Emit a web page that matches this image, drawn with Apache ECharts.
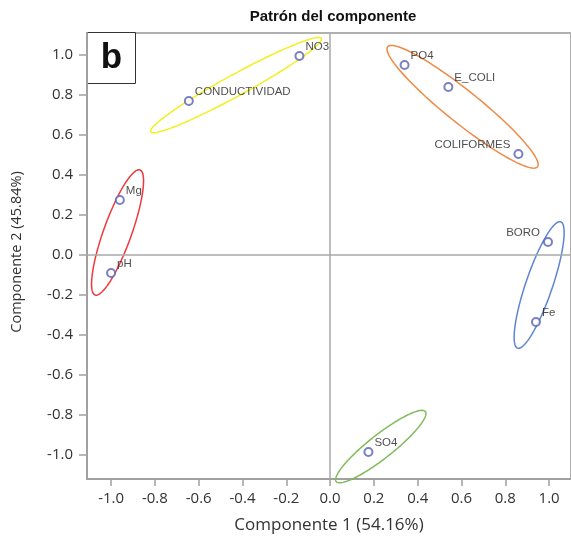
<!DOCTYPE html>
<html>
<head>
<meta charset="utf-8">
<script src="https://cdn.jsdelivr.net/npm/echarts@6/dist/echarts.min.js"></script>
<style>
html,body{margin:0;padding:0;background:#fff;}
#chart{width:571px;height:539px;}
</style>
</head>
<body>
<div id="chart"></div>
<script>
// ---- data ----
const names = ['NO3','CONDUCTIVIDAD','PO4','E_COLI','COLIFORMES','Mg','pH','BORO','Fe','SO4'];
const comp1 = [-0.14, -0.645, 0.34, 0.54, 0.86, -0.96, -1.0, 0.995, 0.94, 0.175];
const comp2 = [0.995, 0.77, 0.95, 0.84, 0.505, 0.275, -0.09, 0.065, -0.335, -0.985];
const tickValues = [-1.0, -0.8, -0.6, -0.4, -0.2, 0.0, 0.2, 0.4, 0.6, 0.8, 1.0];
// ellipses: major-axis tips (x1,y1,x2,y2) in component units, minor/major ratio
const ellipseX1 = [-0.04, 0.263, -0.868, 1.053, 0.435];
const ellipseY1 = [1.083, 1.041, 0.425, 0.166, -0.783];
const ellipseX2 = [-0.819, 0.947, -1.073, 0.856, 0.028];
const ellipseY2 = [0.616, 0.441, -0.20, -0.466, -1.133];
const ellipseRatio = [0.11, 0.17, 0.21, 0.20, 0.21];

// ---- styles ----
const ellipseColors = ['#f2f01e', '#ee8a45', '#f0383c', '#5d86d0', '#80bb5c'];
const leftLabels = { 'COLIFORMES': true, 'BORO': true };

const chart = echarts.init(document.getElementById('chart'), null, {renderer: 'canvas'});

const pointData = names.map((n, i) => {
  const left = leftLabels[n];
  return {
    name: n,
    value: [comp1[i], comp2[i]],
    label: left ? { position: 'left', distance: 3, offset: [0, -9] } : { position: 'right', distance: 1, offset: [0, -9] }
  };
});

const ellipseData = ellipseX1.map((x, i) => [x, ellipseY1[i], ellipseX2[i], ellipseY2[i], ellipseRatio[i], i]);

const axisFont = { fontFamily: 'Open Sans', fontSize: 15, color: '#333' };

const option = {
  animation: false,
  backgroundColor: '#fff',
  title: {
    text: 'Patrón del componente',
    left: 328, top: 4, textAlign: 'center',
    textStyle: { fontFamily: 'Liberation Sans', fontWeight: 'bold', fontSize: 15, color: '#111' }
  },
  grid: {
    left: 87, top: 33, width: 484, height: 446,
    show: true, borderColor: '#b0b0b0', borderWidth: 2, backgroundColor: 'transparent'
  },
  xAxis: {
    type: 'value', min: -1.11, max: 1.1,
    axisLine: { show: true, onZero: false, lineStyle: { color: '#a0a0a0', width: 2 } },
    axisTick: { show: true, customValues: tickValues, length: 7, lineStyle: { color: '#a0a0a0', width: 1.5 } },
    axisLabel: { customValues: tickValues, margin: 12, formatter: v => v.toFixed(1), ...axisFont },
    splitLine: { show: false },
    name: 'Componente 1 (54.16%)', nameLocation: 'middle', nameGap: 38,
    nameTextStyle: { fontFamily: 'Open Sans', fontSize: 17, color: '#333' }
  },
  yAxis: {
    type: 'value', min: -1.12, max: 1.11,
    axisLine: { show: true, onZero: false, lineStyle: { color: '#a0a0a0', width: 2 } },
    axisTick: { show: true, customValues: tickValues, length: 8, lineStyle: { color: '#a0a0a0', width: 1.5 } },
    axisLabel: { customValues: tickValues, margin: 14, formatter: v => v.toFixed(1), ...axisFont },
    splitLine: { show: false }
  },
  graphic: [
    {
      type: 'text', x: 17, y: 252,
      rotation: Math.PI / 2,
      style: { text: 'Componente 2 (45.84%)', fontFamily: 'Open Sans', fontSize: 14.5, fill: '#333', align: 'center', verticalAlign: 'middle' }
    },
    {
      type: 'group', left: 87, top: 32, z: 100,
      children: [
        { type: 'rect', shape: { x: 0, y: 0, width: 48, height: 51 }, style: { fill: '#fff', stroke: '#333', lineWidth: 1 } },
        { type: 'text', x: 24, y: 26, style: { text: 'b', fontFamily: 'Liberation Sans', fontWeight: 'bold', fontSize: 35, fill: '#111', align: 'center', verticalAlign: 'middle' } }
      ]
    }
  ],
  series: [
    {
      type: 'custom',
      clip: false,
      z: 3,
      encode: { x: [0, 2], y: [1, 3] },
      data: ellipseData,
      renderItem: function (params, api) {
        const p1 = api.coord([api.value(0), api.value(1)]);
        const p2 = api.coord([api.value(2), api.value(3)]);
        const ratio = api.value(4);
        const ci = api.value(5);
        const cx = (p1[0] + p2[0]) / 2, cy = (p1[1] + p2[1]) / 2;
        const dx = p2[0] - p1[0], dy = p2[1] - p1[1];
        const a = Math.sqrt(dx * dx + dy * dy) / 2;
        const b = a * ratio;
        const th = Math.atan2(dy, dx);
        const pts = [];
        for (let k = 0; k < 120; k++) {
          const t = k / 120 * Math.PI * 2;
          const ex = a * Math.cos(t), ey = b * Math.sin(t);
          pts.push([cx + ex * Math.cos(th) - ey * Math.sin(th), cy + ex * Math.sin(th) + ey * Math.cos(th)]);
        }
        return {
          type: 'polygon',
          shape: { points: pts },
          style: { fill: 'none', stroke: ellipseColors[ci], lineWidth: 1.5 }
        };
      }
    },
    {
      type: 'scatter',
      z: 4,
      symbol: 'emptyCircle',
      symbolSize: 8,
      itemStyle: { color: '#5860b4', borderWidth: 1.3 },
      label: {
        show: true, formatter: '{b}',
        fontFamily: 'Liberation Sans', fontSize: 11.5, color: '#222'
      },
      data: pointData,
      markLine: {
        silent: true,
        symbol: 'none',
        label: { show: false },
        lineStyle: { color: '#a8a8a8', width: 1.5, type: 'solid' },
        data: [{ xAxis: 0 }, { yAxis: 0 }]
      }
    }
  ]
};
chart.setOption(option);
</script>
</body>
</html>
